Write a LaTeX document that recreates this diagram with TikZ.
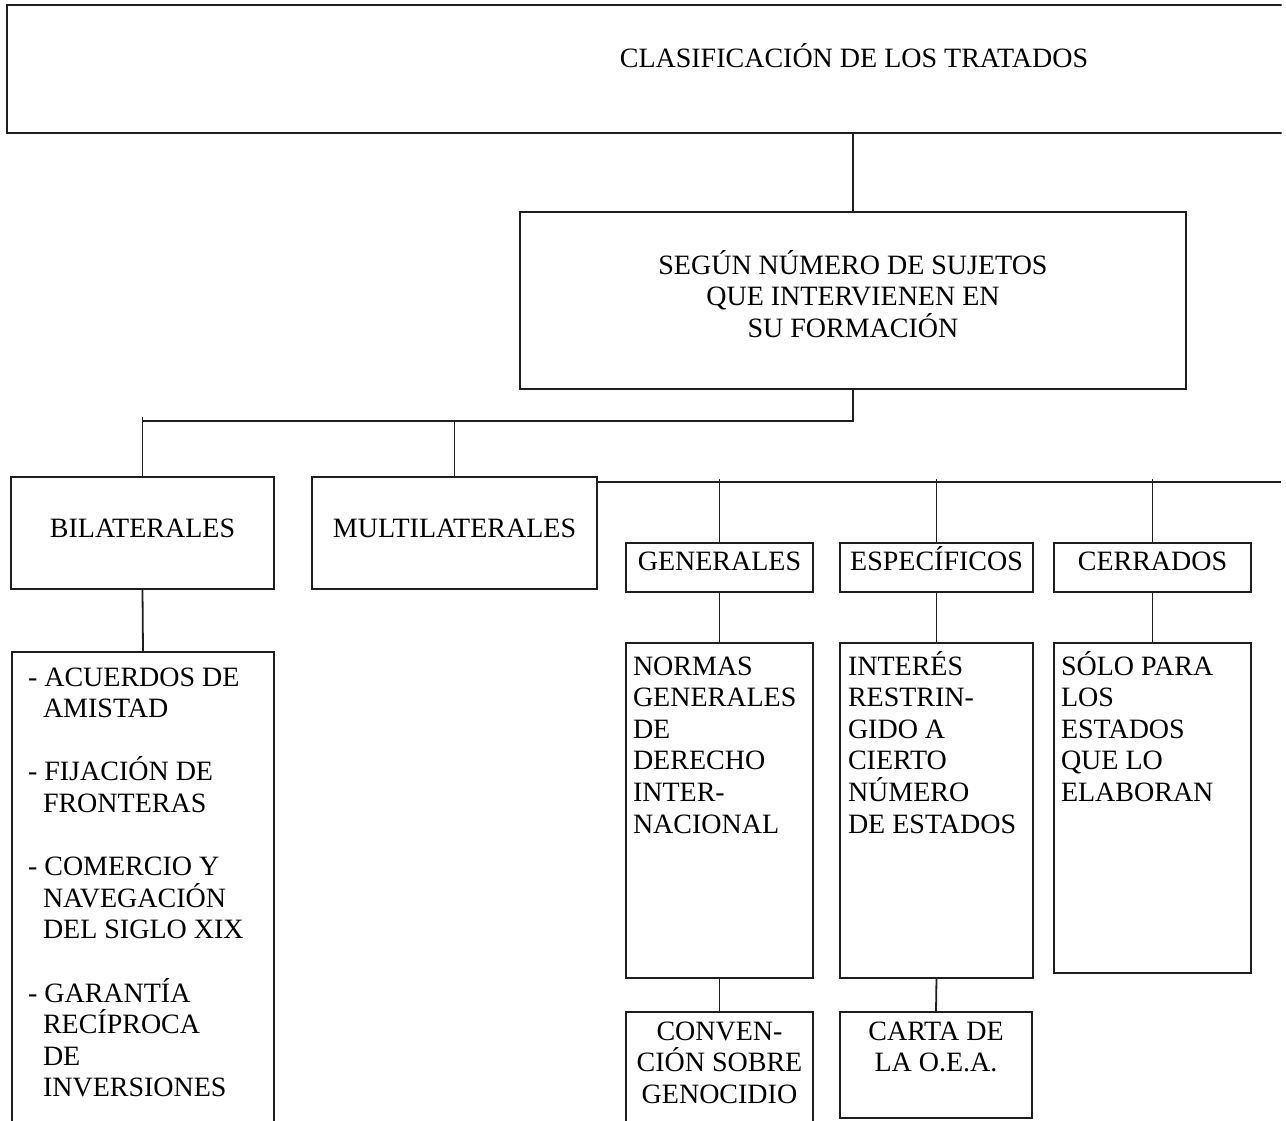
\documentclass[tikz,border=0pt]{standalone}
\usepackage{fontspec}
\setmainfont{Liberation Serif}
\newcommand\mkbox[5]{\node[box, minimum width=#4pt, minimum height=#5pt] (#1) at (#2,#3) {};}
\begin{document}
\begin{tikzpicture}[x=1pt,y=-1pt,
  box/.style={draw=black!88, line width=1.8pt, inner sep=0pt, outer sep=0pt, anchor=north west},
  txt/.style={inner sep=0pt, outer sep=0pt, text=black, font=\fontsize{28}{31.6}\selectfont},
  link/.style={draw=black!88, line width=1.8pt}]
\useasboundingbox (0,0) rectangle (1286,1120);
\clip (0,0) rectangle (1281.5,1120);
% boxes
\mkbox{top}{7}{5}{1320}{128}
\mkbox{segun}{520}{212}{666}{177}
\mkbox{bil}{11}{477}{263}{112}
\mkbox{mul}{312}{477}{285}{112}
\mkbox{gen}{626}{543}{187}{49}
\mkbox{esp}{840}{543}{193}{49}
\mkbox{cer}{1054}{543}{197}{49}
\mkbox{nor}{626}{643}{187}{335}
\mkbox{int}{840}{643}{193}{335}
\mkbox{sol}{1054}{643}{197}{330}
\mkbox{con}{626}{1012}{187}{150}
\mkbox{car}{840}{1012}{192}{106}
\mkbox{list}{12}{652}{262}{520}
% texts (base anchor = baseline of the last line)
\node[txt, anchor=base] (ttop) at (854,67) {CLASIFICACIÓN DE LOS TRATADOS};
\node[txt, anchor=base, align=center] (tsegun) at (853,337.2) {SEGÚN NÚMERO DE SUJETOS\\QUE INTERVIENEN EN\\SU FORMACIÓN};
\node[txt, anchor=base] (tbil) at (142.5,537) {BILATERALES};
\node[txt, anchor=base] (tmul) at (454.5,537) {MULTILATERALES};
\node[txt, anchor=base] (tgen) at (719.5,570) {GENERALES};
\node[txt, anchor=base] (tesp) at (936.5,570) {ESPECÍFICOS};
\node[txt, anchor=base] (tcer) at (1152.5,570) {CERRADOS};
\node[txt, anchor=base west, align=left] (tnor) at (633,833) {NORMAS\\GENERALES\\DE\\DERECHO\\INTER-\\NACIONAL};
\node[txt, anchor=base west, align=left] (tint) at (848,833) {INTERÉS\\RESTRIN-\\GIDO A\\CIERTO\\NÚMERO\\DE ESTADOS};
\node[txt, anchor=base west, align=left] (tsol) at (1061,801.4) {SÓLO PARA\\LOS\\ESTADOS\\QUE LO\\ELABORAN};
\node[txt, anchor=base, align=center] (tcon) at (719.5,1103.2) {CONVEN-\\CIÓN SOBRE\\GENOCIDIO};
\node[txt, anchor=base, align=center] (tcar) at (936,1071.6) {CARTA DE\\LA O.E.A.};
\node[txt, anchor=base west, align=left] (tlist) at (28,1096.8) {- ACUERDOS DE\\\hspace*{15pt}AMISTAD\\[31.6pt]- FIJACIÓN DE\\\hspace*{15pt}FRONTERAS\\[31.6pt]- COMERCIO Y\\\hspace*{15pt}NAVEGACIÓN\\\hspace*{15pt}DEL SIGLO XIX\\[31.6pt]- GARANTÍA\\\hspace*{15pt}RECÍPROCA\\\hspace*{15pt}DE\\\hspace*{15pt}INVERSIONES};
% connectors
\coordinate (j1) at (853,421);
\coordinate (busR) at (1281,482);
\draw[link] (top.south -| segun.north) -- (segun.north);
\draw[link] (segun.south) -- (j1) -- (j1 -| bil.north);
\draw[link] (bil.north) -- ++(0,-60);
\draw[link] (mul.north) -- (mul.north |- j1);
\draw[link] ([yshift=-5pt]mul.north east) -- (busR);
\draw[link] (gen.north) -- ++(0,-64);
\draw[link] (esp.north) -- ++(0,-64);
\draw[link] (cer.north) -- ++(0,-64);
\draw[link] (bil.south) -- (list.north);
\draw[link] (gen.south) -- (nor.north);
\draw[link] (esp.south) -- (int.north);
\draw[link] (cer.south) -- (sol.north);
\draw[link] (nor.south) -- (con.north);
\draw[link] (int.south) -- (car.north);
\end{tikzpicture}
\end{document}
